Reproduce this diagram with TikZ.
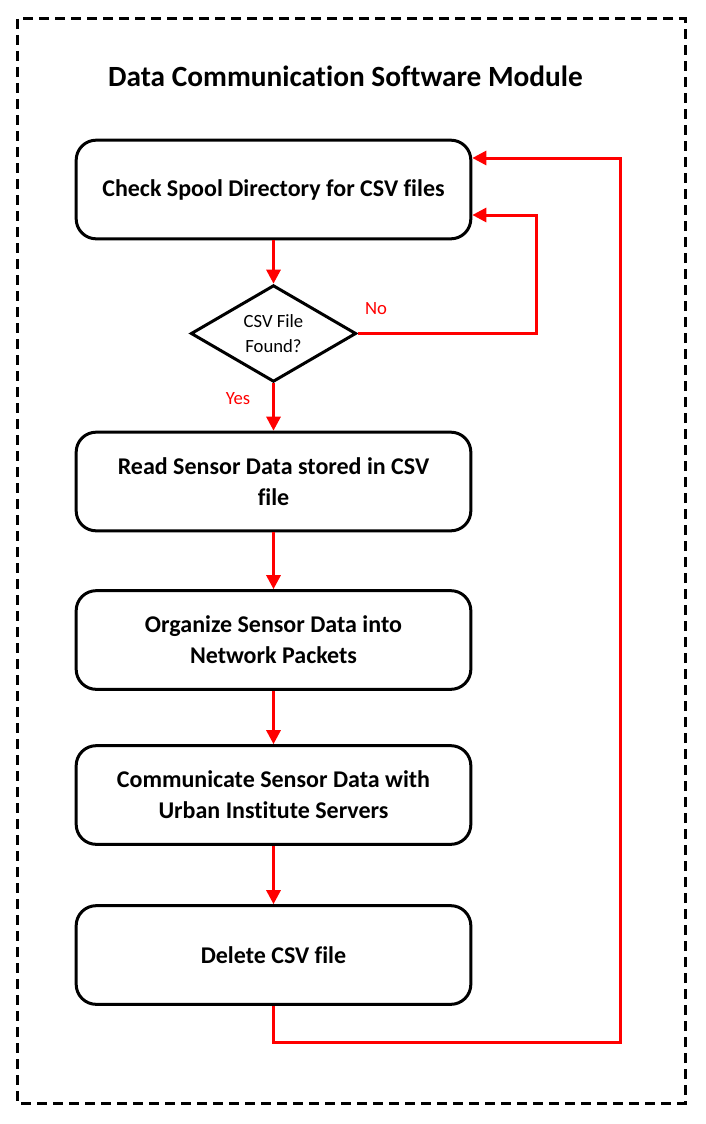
\documentclass[tikz,border=0pt]{standalone}
\usepackage{fontspec}
\setmainfont[Ligatures=NoCommon]{Carlito}
\usetikzlibrary{shapes.geometric,arrows.meta}
\begin{document}
\begin{tikzpicture}[x=0.75pt,y=-0.75pt,
  procbox/.style={draw=black,line width=2.25pt,rounded corners=15pt,minimum width=296pt,minimum height=74pt,align=center,font=\fontsize{18}{23.25}\selectfont\bfseries,inner sep=0pt},
  decision/.style={draw=black,line width=2.25pt,diamond,shape aspect=1.71,minimum width=124pt,minimum height=72.5pt,inner sep=0pt,align=center,font=\fontsize{14}{18.75}\selectfont},
  flow/.style={draw=red,line width=2.25pt,-{Triangle[length=10.5pt,width=10.5pt]}},
  lbl/.style={text=red,font=\fontsize{14}{16}\selectfont,inner sep=0pt}]
\useasboundingbox (0,0) rectangle (706,1124);
\draw[line width=2.25pt,dash pattern=on 7.5pt off 4.5pt] (17,19) rectangle (685,1103);
\node[font=\fontsize{22}{26}\selectfont\bfseries,inner sep=0pt] (title) at (345.5,76) {Data Communication Software Module};
\node[procbox] (b1) at (273.5,189.5) {Check Spool Directory for CSV files};
\node[decision] (d) at (273.5,333.5) {CSV File\\Found?};
\node[procbox] (b2) at (273.5,481.5) {Read Sensor Data stored in CSV\\file};
\node[procbox] (b3) at (273.5,640) {Organize Sensor Data into\\Network Packets};
\node[procbox] (b4) at (273.5,795) {Communicate Sensor Data with\\Urban Institute Servers};
\node[procbox] (b5) at (273.5,955) {Delete CSV file};
\coordinate (n1) at (536,333.5);
\coordinate (n2) at (536,215);
\coordinate (r0) at (273.5,1042);
\coordinate (r1) at (620,1042);
\coordinate (r2) at (620,158);
\draw[flow] (b1.south) -- (d.north);
\draw[flow] (d.south) -- (b2.north);
\draw[flow] (b2.south) -- (b3.north);
\draw[flow] (b3.south) -- (b4.north);
\draw[flow] (b4.south) -- (b5.north);
\draw[flow] (d.east) -- (n1) -- (n2) -- (b1.east |- n2);
\draw[flow] (b5.south) -- (r0) -- (r1) -- (r2) -- (b1.east |- r2);
\node[lbl] (no) at (376,309) {No};
\node[lbl] (yes) at (238,399) {Yes};
\end{tikzpicture}
\end{document}
